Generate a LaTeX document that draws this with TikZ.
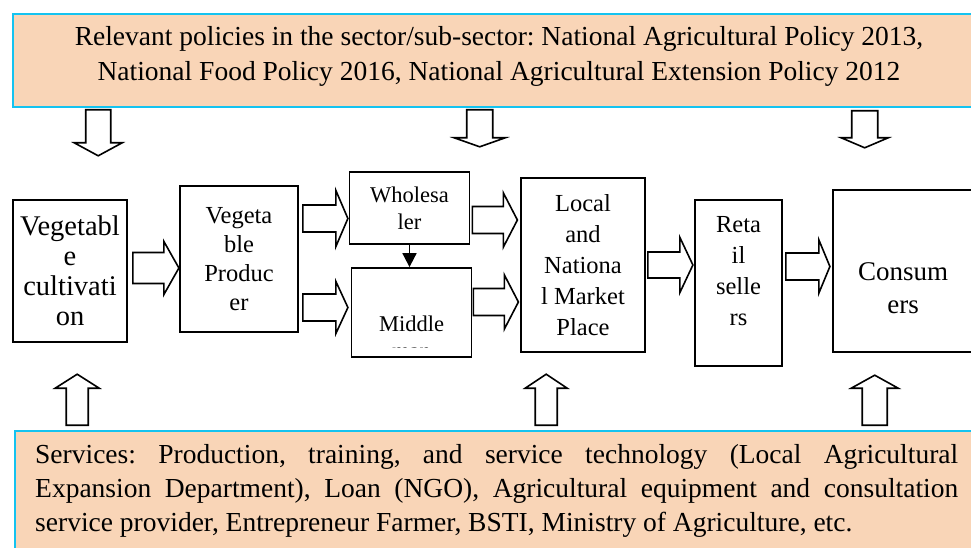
\documentclass[tikz,border=0pt]{standalone}
\usepackage{fontspec}
\setmainfont{Liberation Serif}
\usetikzlibrary{arrows.meta,calc}
\definecolor{peach}{RGB}{249,213,183}
\definecolor{skyline}{RGB}{20,195,240}
\frenchspacing

\tikzset{
  box/.style={draw, line width=1.8pt, align=center, inner sep=0pt},
  band/.style={draw=skyline, fill=peach, line width=1.6pt},
  blockarrow/.style={draw, fill=white, line width=1.6pt, line join=miter},
}
% #1 tail, #2 angle, #3 length, #4 half shaft, #5 half head, #6 head length
\newcommand{\blockarrow}[6]{%
  \draw[blockarrow, shift={(#1)}, rotate=#2]
    (0,-#4) -- (#3-#6,-#4) -- (#3-#6,-#5) -- (#3,0) -- (#3-#6,#5) -- (#3-#6,#4) -- (0,#4) -- cycle;}

\begin{document}
\begin{tikzpicture}[x=1pt, y=-1pt]
		\useasboundingbox (0,0) rectangle (971,548);
		\clip (0,0) rectangle (971,548);

		% policy and services bands
		\node[band, minimum width=972pt, minimum height=93pt] (policy) at (499,60.5) {};
		\node[align=center, font=\fontsize{27.5}{35}\selectfont] (policytxt) at (499,56)
		      {Relevant policies in the sector/sub-sector: National Agricultural Policy 2013,\\
		       National Food Policy 2016, National Agricultural Extension Policy 2012};
		\node[band, minimum width=965pt, minimum height=149pt] (services) at (497.5,505.5) {};
		\node[anchor=north west, inner sep=0pt, text width=923pt, align=justify,
		      font=\fontsize{27.5}{34}\selectfont] (servtxt) at (35,444)
		      {Services: Production, training, and service technology (Local Agricultural\linebreak
		       Expansion Department), Loan (NGO), Agricultural equipment and consultation\linebreak
		       service provider, Entrepreneur Farmer, BSTI, Ministry of Agriculture, etc.};

		% chain boxes
		\node[box, minimum width=114pt, minimum height=142pt, font=\fontsize{28.5}{30}\selectfont] (cult) at (70,271) {Vegetabl\\e\\cultivati\\on};
		\node[box, minimum width=118pt, minimum height=146pt, font=\fontsize{24.5}{29}\selectfont] (prod) at (239,259) {Vegeta\\ble\\Produc\\er};
		\node[box, minimum width=120pt, minimum height=72pt, font=\fontsize{22.5}{27}\selectfont] (whole) at (409.5,208) {Wholesa\\ler};
		\node[box, minimum width=120pt, minimum height=89pt] (mid) at (411.5,312.5) {};
		\node[box, minimum width=124pt, minimum height=174pt, font=\fontsize{24.5}{31}\selectfont] (market) at (583,265) {Local\\and\\Nationa\\l Market\\Place};
		\node[box, minimum width=87pt, minimum height=166pt] (retail) at (738.5,283) {};
		\node[align=center, font=\fontsize{24.5}{31}\selectfont] (retailtxt) at (738.5,271.5) {Reta\\il\\selle\\rs};
		\node[box, minimum width=140pt, minimum height=162pt] (cons) at (903,271) {};
		\node[align=center, font=\fontsize{27}{33}\selectfont] (constxt) at (903,288.5) {Consum\\ers};
		\begin{scope}
			\clip (352,268) rectangle (472,347);
			\node[align=center, font=\fontsize{22.5}{27}\selectfont] (midtxt) at (411.5,337) {Middle\\man};
		\end{scope}

		\draw[-{Triangle[length=14pt,width=14pt]}, line width=1.8pt] (whole.south) -- (whole.south |- mid.north);

		% flow arrows
		\blockarrow{$(cult.east)+(5,-3)$}{0}{46}{15.5}{26.5}{15}
		\blockarrow{$(prod.east)+(4,-40.5)$}{0}{45}{13.5}{28}{12}
		\blockarrow{$(prod.east)+(4,48.5)$}{0}{45}{13.5}{26}{12}
		\blockarrow{$(whole.east)+(2,12)$}{0}{45}{13.5}{27}{14}
		\blockarrow{$(mid.east)+(1,-10.5)$}{0}{45}{13.5}{27}{14}
		\blockarrow{$(market.east)+(2,0)$}{0}{45}{13}{27.5}{13}
		\blockarrow{$(retail.east)+(3,-16.5)$}{0}{44}{13.5}{26.5}{11}

		% policy arrows
		\blockarrow{$(policy.south west)+(86,2)$}{-90}{46}{12.5}{24}{13}
		\blockarrow{$(policy.south west)+(467.5,2)$}{-90}{37}{13}{25.5}{9}
		\blockarrow{$(policy.south west)+(852.5,3)$}{-90}{37}{13}{23.5}{10}

		% service arrows
		\blockarrow{$(services.north west)+(63,-5)$}{90}{51}{11}{22}{14}
		\blockarrow{$(services.north west)+(532,-5)$}{90}{51}{11}{21}{14}
		\blockarrow{$(services.north west)+(860.5,-5)$}{90}{50}{12.5}{23.5}{13}
	\end{tikzpicture}
\end{document}
